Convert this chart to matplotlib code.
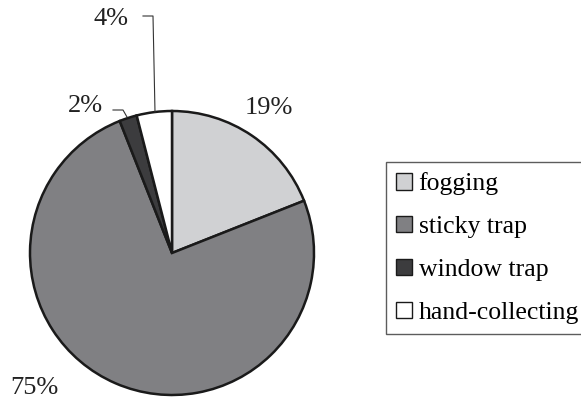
import matplotlib.pyplot as plt
import numpy as np

# data
methods = ['fogging', 'sticky trap', 'window trap', 'hand-collecting']
shares = [19, 75, 2, 4]
colors = ['#d0d1d3', '#808083', '#3c3c3e', '#ffffff']

plt.rcParams['font.family'] = ['Liberation Serif', 'DejaVu Serif']

W, H = 581, 403
fig = plt.figure(figsize=(W / 100, H / 100), dpi=100)
ax = fig.add_axes([0, 0, 1, 1])

cx, cy, r = 172, H - 253, 142
wedges, _ = ax.pie(shares, colors=colors, startangle=90, counterclock=False,
                   center=(cx, cy), radius=r, frame=True,
                   wedgeprops=dict(edgecolor='#1a1a1a', linewidth=1.8))
ax.set_xlim(0, W)
ax.set_ylim(0, H)
ax.set_aspect('equal')
ax.axis('off')

# percentage labels
fs = 19
tc = '#222222'
ax.text(245, H - 108, f'{shares[0]}%', fontsize=fs, ha='left', va='center', color=tc)
ax.text(10, H - 388, f'{shares[1]}%', fontsize=fs, ha='left', va='center', color=tc)
ax.text(103, H - 106, f'{shares[2]}%', fontsize=fs, ha='right', va='center', color=tc)
ax.text(129, H - 19, f'{shares[3]}%', fontsize=fs, ha='right', va='center', color=tc)

# leader lines
ax.plot([143, 153, 155], [H - 16, H - 16, H - 112], color='#333333', lw=0.8)
ax.plot([113, 123, 127], [H - 110, H - 110, H - 117], color='#333333', lw=0.8)

leg = ax.legend(wedges, methods, loc='upper left', bbox_to_anchor=(386 / W, 1 - 162 / H),
                frameon=True, fancybox=False, fontsize=18.5, handlelength=0.62,
                handleheight=0.62, handletextpad=0.25, labelspacing=0.8,
                borderpad=0.4, borderaxespad=0)
leg.get_frame().set_edgecolor('#333333')
leg.get_frame().set_linewidth(1.0)
for h in leg.legend_handles:
    h.set_linewidth(1.0)

fig.savefig('out.png', dpi=100)
